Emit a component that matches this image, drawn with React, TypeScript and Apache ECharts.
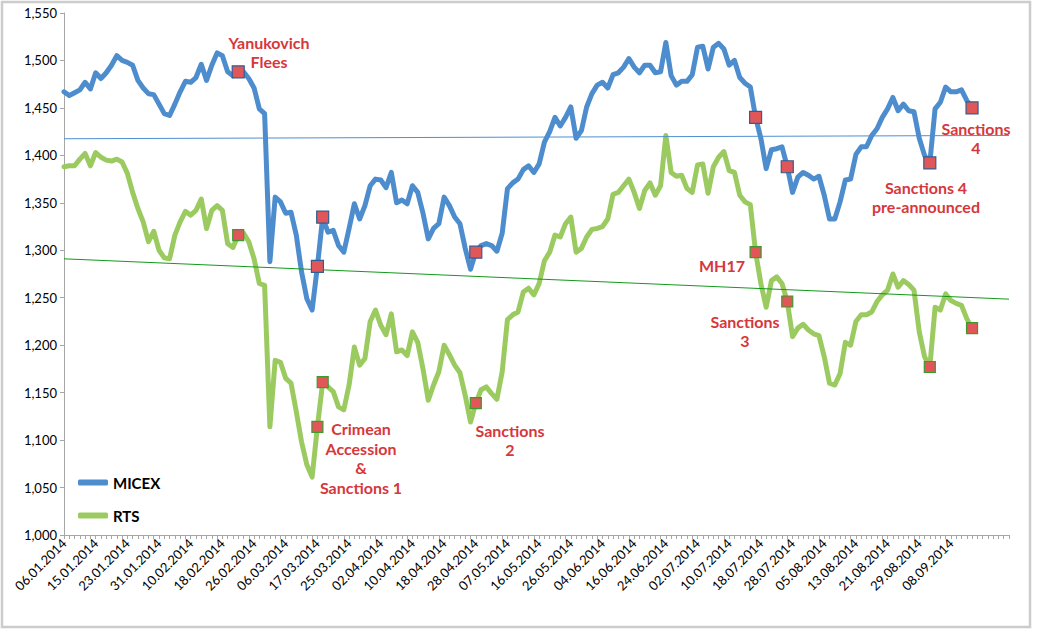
import React, { useEffect, useRef } from "react";
import * as echarts from "echarts";

const dates = [
  "06.01.2014","08.01.2014","09.01.2014","10.01.2014","13.01.2014","14.01.2014",
  "15.01.2014","16.01.2014","17.01.2014","20.01.2014","21.01.2014","22.01.2014",
  "23.01.2014","24.01.2014","27.01.2014","28.01.2014","29.01.2014","30.01.2014",
  "31.01.2014","03.02.2014","04.02.2014","05.02.2014","06.02.2014","07.02.2014",
  "10.02.2014","11.02.2014","12.02.2014","13.02.2014","14.02.2014","17.02.2014",
  "18.02.2014","19.02.2014","20.02.2014","21.02.2014","24.02.2014","25.02.2014",
  "26.02.2014","27.02.2014","28.02.2014","03.03.2014","04.03.2014","05.03.2014",
  "06.03.2014","07.03.2014","11.03.2014","12.03.2014","13.03.2014","14.03.2014",
  "17.03.2014","18.03.2014","19.03.2014","20.03.2014","21.03.2014","24.03.2014",
  "25.03.2014","26.03.2014","27.03.2014","28.03.2014","31.03.2014","01.04.2014",
  "02.04.2014","03.04.2014","04.04.2014","07.04.2014","08.04.2014","09.04.2014",
  "10.04.2014","11.04.2014","14.04.2014","15.04.2014","16.04.2014","17.04.2014",
  "18.04.2014","21.04.2014","22.04.2014","23.04.2014","24.04.2014","25.04.2014",
  "28.04.2014","29.04.2014","30.04.2014","02.05.2014","05.05.2014","06.05.2014",
  "07.05.2014","08.05.2014","12.05.2014","13.05.2014","14.05.2014","15.05.2014",
  "16.05.2014","19.05.2014","20.05.2014","21.05.2014","22.05.2014","23.05.2014",
  "26.05.2014","27.05.2014","28.05.2014","29.05.2014","02.06.2014","03.06.2014",
  "04.06.2014","05.06.2014","06.06.2014","09.06.2014","10.06.2014","11.06.2014",
  "16.06.2014","17.06.2014","18.06.2014","19.06.2014","20.06.2014","23.06.2014",
  "24.06.2014","25.06.2014","26.06.2014","27.06.2014","30.06.2014","01.07.2014",
  "02.07.2014","03.07.2014","04.07.2014","07.07.2014","08.07.2014","09.07.2014",
  "10.07.2014","11.07.2014","14.07.2014","15.07.2014","16.07.2014","17.07.2014",
  "18.07.2014","21.07.2014","22.07.2014","23.07.2014","24.07.2014","25.07.2014",
  "28.07.2014","29.07.2014","30.07.2014","31.07.2014","01.08.2014","04.08.2014",
  "05.08.2014","06.08.2014","07.08.2014","08.08.2014","11.08.2014","12.08.2014",
  "13.08.2014","14.08.2014","15.08.2014","18.08.2014","19.08.2014","20.08.2014",
  "21.08.2014","22.08.2014","25.08.2014","26.08.2014","27.08.2014","28.08.2014",
  "29.08.2014","01.09.2014","02.09.2014","03.09.2014","04.09.2014","05.09.2014",
  "08.09.2014","09.09.2014","10.09.2014","11.09.2014","12.09.2014",
];
const blankCategories = ["", "", "", "", "", "", ""];

const micex = [
  1467,1463,1466,1469,1477,1470,1487,1481,1487,1495,
  1505,1500,1498,1495,1479,1471,1465,1464,1454,1444,
  1442,1454,1467,1478,1477,1482,1496,1479,1495,1508,
  1505,1488,1484,1488,1488,1481,1471,1449,1444,1288,
  1356,1351,1339,1340,1316,1277,1249,1237,1283,1335,
  1319,1321,1305,1298,1323,1349,1333,1347,1368,1375,
  1374,1366,1382,1350,1353,1349,1368,1361,1339,1312,
  1323,1328,1356,1347,1335,1328,1302,1280,1298,1305,
  1307,1305,1299,1318,1365,1371,1375,1385,1389,1382,
  1391,1414,1425,1440,1431,1440,1451,1418,1426,1451,
  1465,1474,1477,1471,1485,1487,1493,1502,1493,1487,
  1495,1495,1487,1488,1519,1484,1474,1478,1478,1485,
  1514,1515,1491,1514,1518,1512,1495,1500,1482,1476,
  1472,1440,1418,1386,1406,1407,1409,1388,1361,1377,
  1382,1379,1375,1378,1358,1333,1333,1351,1374,1375,
  1401,1409,1409,1421,1428,1440,1449,1461,1447,1454,
  1447,1446,1418,1400,1392,1449,1456,1472,1467,1467,
  1469,1458,1450,
];

const rts = [
  1388,1389,1389,1396,1402,1389,1403,1398,1395,1394,
  1396,1393,1381,1361,1344,1330,1309,1320,1300,1292,
  1291,1316,1330,1341,1337,1342,1354,1323,1342,1347,
  1342,1307,1303,1316,1318,1309,1291,1265,1263,1114,
  1184,1182,1165,1160,1130,1098,1074,1061,1114,1161,
  1156,1151,1135,1132,1158,1198,1179,1186,1225,1237,
  1221,1211,1233,1193,1195,1189,1214,1203,1175,1142,
  1158,1172,1200,1190,1179,1171,1147,1119,1139,1153,
  1156,1149,1143,1172,1227,1232,1235,1256,1260,1253,
  1265,1289,1298,1316,1314,1328,1335,1298,1302,1314,
  1322,1323,1325,1333,1359,1361,1368,1375,1361,1344,
  1363,1371,1358,1368,1421,1382,1378,1379,1365,1361,
  1390,1391,1360,1388,1398,1404,1384,1382,1358,1351,
  1348,1298,1265,1240,1268,1272,1265,1246,1209,1218,
  1222,1216,1212,1210,1188,1160,1158,1170,1203,1200,
  1225,1232,1232,1235,1246,1253,1258,1275,1261,1268,
  1264,1258,1214,1188,1177,1240,1237,1254,1247,1244,
  1242,1228,1218,
];

// event markers (category indices)
const eventIdx = [33, 48, 49, 78, 131, 137, 164, 172];

// linear trend lines [start value, end value]
const micexTrend = [1417.5, 1421];
const rtsTrend = [1291, 1248.5];

const yTicks = { min: 1000, max: 1550, interval: 50 };

const RED = "#d6373c";
const FONT = "Lato, 'Open Sans', sans-serif";

export default function App() {
  const ref = useRef<HTMLDivElement>(null);
  useEffect(() => {
    if (!ref.current) return;
    const chart = echarts.init(ref.current, undefined, { renderer: "svg" });
    const categories = dates.concat(blankCategories);
    const last = categories.length - 1;
    const ann = (text: string, x: number, y: number) => ({
      type: "text",
      x,
      y,
      z: 100,
      style: {
        text,
        textAlign: "center",
        textVerticalAlign: "middle",
        font: `bold 16px ${FONT}`,
        lineHeight: 19.5,
        fill: RED,
      },
    });
    const markerStyle = (border: string) => ({
      color: "#e05659",
      borderColor: border,
      borderWidth: 1.2,
      opacity: 1,
    });
    chart.setOption({
      animation: false,
      backgroundColor: "#ffffff",
      textStyle: { fontFamily: FONT },
      grid: { left: 64, right: 28, top: 13, bottom: 97 },
      legend: [
        {
          data: ["MICEX"],
          left: 78,
          top: 475,
          padding: 0,
          icon: "roundRect",
          itemWidth: 30,
          itemHeight: 6,
          textStyle: { fontWeight: "bold", fontSize: 15, color: "#000", fontFamily: FONT },
        },
        {
          data: ["RTS"],
          left: 78,
          top: 508,
          padding: 0,
          icon: "roundRect",
          itemWidth: 30,
          itemHeight: 6,
          textStyle: { fontWeight: "bold", fontSize: 15, color: "#000", fontFamily: FONT },
        },
      ],
      xAxis: {
        type: "category",
        data: categories,
        boundaryGap: false,
        axisLine: { lineStyle: { color: "#a6a6a6", width: 1 } },
        axisTick: { interval: 0, length: 4, lineStyle: { color: "#a6a6a6" } },
        axisLabel: {
          interval: 5,
          rotate: 45,
          fontSize: 13,
          color: "#000",
          margin: 6,
          fontFamily: FONT,
        },
        splitLine: { show: false },
      },
      yAxis: {
        type: "value",
        min: yTicks.min,
        max: yTicks.max,
        interval: yTicks.interval,
        axisLine: { show: true, lineStyle: { color: "#a6a6a6", width: 1 } },
        axisTick: { show: true, length: 4, lineStyle: { color: "#a6a6a6" } },
        axisLabel: {
          fontSize: 13,
          color: "#000",
          margin: 7,
          fontFamily: FONT,
          formatter: (v: number) => v.toLocaleString("en-US"),
        },
        splitLine: { show: false },
      },
      series: [
        {
          name: "MICEX",
          type: "line",
          data: micex,
          symbol: "none",
          color: "#4e8dcd",
          lineStyle: { width: 5, color: "#4e8dcd", cap: "round", join: "round" },
          z: 3,
        },
        {
          name: "RTS",
          type: "line",
          data: rts,
          symbol: "none",
          color: "#9bcb60",
          lineStyle: { width: 5, color: "#9bcb60", cap: "round", join: "round" },
          z: 2,
        },
        {
          name: "MICEX trend",
          type: "line",
          data: [[0, micexTrend[0]], [last, micexTrend[1]]],
          symbol: "none",
          lineStyle: { width: 1, color: "#4f8fd2" },
          z: 4,
        },
        {
          name: "RTS trend",
          type: "line",
          data: [[0, rtsTrend[0]], [last, rtsTrend[1]]],
          symbol: "none",
          lineStyle: { width: 1, color: "#13991a" },
          z: 4,
        },
        {
          name: "MICEX events",
          type: "scatter",
          data: eventIdx.map((i) => [i, micex[i]]),
          symbol: "rect",
          symbolSize: 12,
          itemStyle: markerStyle("#2f5f93"),
          z: 6,
        },
        {
          name: "RTS events",
          type: "scatter",
          data: eventIdx.map((i) => [i, rts[i]]),
          symbol: "rect",
          symbolSize: 11,
          itemStyle: markerStyle("#3c9a2c"),
          z: 6,
        },
      ],
      graphic: [
        {
          type: "rect",
          shape: { x: 2, y: 2, width: 1028, height: 625 },
          style: { fill: "none", stroke: "#cccccc", lineWidth: 2.5 },
          silent: true,
          z: -1,
        },
        ann("Yanukovich\nFlees", 269, 52),
        ann("Crimean\nAccession\n&\nSanctions 1", 361, 458),
        ann("Sanctions\n2", 510, 440),
        ann("MH17", 722, 265),
        ann("Sanctions\n3", 745, 331),
        ann("Sanctions\n4", 976, 138),
        ann("Sanctions 4\npre-announced", 926, 197),
      ],
    });
    return () => chart.dispose();
  }, []);
  return (
    <div
      ref={ref}
      style={{ position: "fixed", left: 0, top: 0, width: 1037, height: 632, background: "#fff" }}
    />
  );
}
